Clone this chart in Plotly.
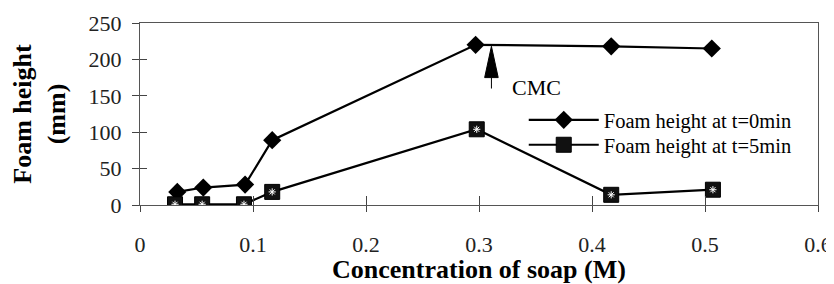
import plotly.graph_objects as go

# Data
conc_t0 = [0.033, 0.056, 0.093, 0.117, 0.297, 0.417, 0.506]
height_t0 = [18, 24, 28, 89, 220, 218, 215]
conc_t5 = [0.031, 0.055, 0.092, 0.117, 0.298, 0.417, 0.507]
height_t5 = [1, 1, 1, 18, 104, 14, 21]
name_t0 = "Foam height at t=0min"
name_t5 = "Foam height at t=5min"
x_ticks = [0, 0.1, 0.2, 0.3, 0.4, 0.5, 0.6]
y_ticks = [0, 50, 100, 150, 200, 250]
CMC_X = 0.311
CMC_TIP = 218
CMC_BASE = 175
CMC_TAIL = 160

SERIF = "Times New Roman, Liberation Serif, serif"

fig = go.Figure()
fig.add_trace(go.Scatter(
    x=conc_t0, y=height_t0, mode="lines+markers", name=name_t0,
    line=dict(color="black", width=2.2),
    marker=dict(symbol="diamond", size=14, color="black"),
    legend="legend",
))
fig.add_trace(go.Scatter(
    x=conc_t5, y=height_t5, mode="lines+markers", name=name_t5,
    line=dict(color="black", width=2.2),
    marker=dict(symbol="square", size=15, color="#111",
                line=dict(color="black", width=1)),
    legend="legend2",
))
fig.add_trace(go.Scatter(
    x=conc_t5, y=height_t5, mode="markers", showlegend=False,
    marker=dict(symbol="asterisk-open", size=6, color="white",
                line=dict(color="white", width=1)),
    hoverinfo="skip",
))

# CMC arrow (annotation drawing)
fig.add_shape(type="path",
              path=f"M {CMC_X-0.006},{CMC_BASE} L {CMC_X+0.006},{CMC_BASE} L {CMC_X},{CMC_TIP} Z",
              fillcolor="black", line=dict(color="black", width=1))
fig.add_shape(type="line", x0=CMC_X, x1=CMC_X, y0=CMC_TAIL, y1=CMC_BASE,
              line=dict(color="black", width=1))
fig.add_annotation(x=0.327, y=161, text="CMC", showarrow=False,
                   xanchor="left", yanchor="middle",
                   font=dict(family=SERIF, size=22, color="black"))

axis_common = dict(showgrid=False, zeroline=False, automargin=False)
legend_common = dict(xanchor="left", yanchor="middle", bgcolor="rgba(0,0,0,0)",
                     itemwidth=70, font=dict(family=SERIF, size=20.5, color="black"))
fig.update_layout(
    width=826, height=276,
    margin=dict(l=132, r=16, t=15, b=79),
    paper_bgcolor="white", plot_bgcolor="white",
    font=dict(family=SERIF, color="black"),
    xaxis=dict(
        range=[0, 0.6], tickvals=x_ticks, ticks="outside", ticklen=6,
        tickcolor="#444", showline=True, linecolor="#555", linewidth=1,
        mirror=True, tickfont=dict(family=SERIF, size=22, color="#222"),
        ticklabelstandoff=14,
        title=dict(text="<b>Concentration of soap (M)</b>", standoff=10,
                   font=dict(family=SERIF, size=26, color="black")),
        **axis_common,
    ),
    yaxis=dict(
        range=[0, 250], tickvals=y_ticks, ticks="outside", ticklen=7,
        tickcolor="#444", showline=True, linecolor="#555", linewidth=1,
        mirror=True, tickfont=dict(family=SERIF, size=22, color="#222"),
        ticklabelstandoff=6,
        title=dict(text="<b>Foam height<br>(mm)</b>", standoff=18,
                   font=dict(family=SERIF, size=26, color="black")),
        **axis_common,
    ),
    xaxis2=dict(range=[0, 0.6], tickvals=x_ticks, ticks="inside", ticklen=9,
                tickcolor="#444", showticklabels=False, overlaying="x",
                anchor="y", showline=False, **axis_common),
    yaxis2=dict(range=[0, 250], tickvals=y_ticks, ticks="inside", ticklen=7,
                tickcolor="#444", showticklabels=False, overlaying="y",
                anchor="x", showline=False, **axis_common),
    legend=dict(x=0.566, y=0.467, **legend_common),
    legend2=dict(x=0.566, y=0.330, **legend_common),
    showlegend=True,
)
# invisible trace so the overlay tick axes are drawn
fig.add_trace(go.Scatter(x=[0], y=[0], xaxis="x2", yaxis="y2", mode="markers",
                         marker=dict(opacity=0), showlegend=False, hoverinfo="skip"))

fig.write_html("out.html")
